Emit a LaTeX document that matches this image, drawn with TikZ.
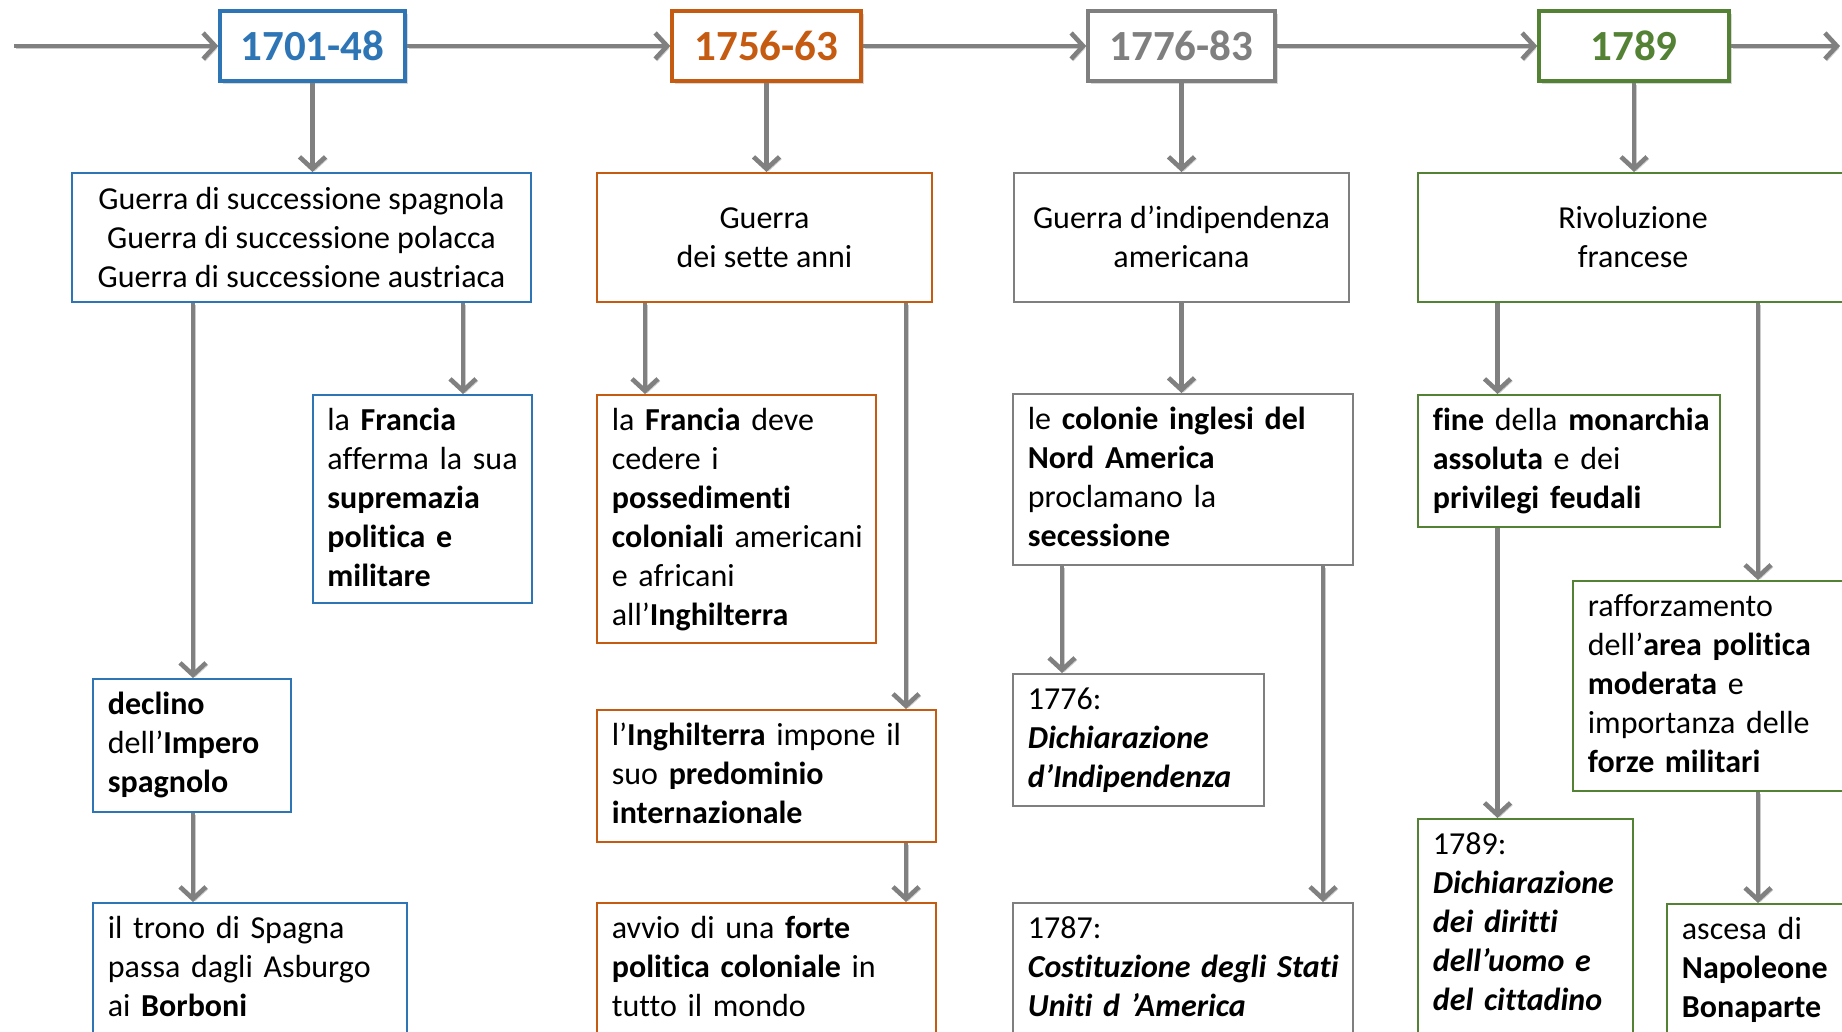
\documentclass[tikz,border=0pt]{standalone}
\usepackage{fontspec}
\setmainfont{Carlito}[Ligatures={NoCommon}]
\usetikzlibrary{arrows.meta,fit,shadows}
\definecolor{cblue}{HTML}{2E75B6}
\definecolor{corange}{HTML}{C55A11}
\definecolor{cgray}{HTML}{7F7F7F}
\definecolor{cgreen}{HTML}{548235}
\definecolor{carrow}{HTML}{808080}
\begin{document}
\begin{tikzpicture}[x=0.5pt,y=-0.5pt,
  arr/.style={draw=carrow, line width=2.3pt, -{Straight Barb[length=6pt,width=13pt]},
    preaction={draw=black!20, transform canvas={xshift=1pt,yshift=-1pt}}},
  ybox/.style={draw=#1, line width=1.75pt, fill=white, inner sep=0pt,
    drop shadow={shadow xshift=1.5pt, shadow yshift=-1.5pt, opacity=0.3}},
  ytx/.style={anchor=base, inner sep=0pt, text=#1, font=\fontsize{21.5}{26}\selectfont\bfseries},
  cbox/.style={draw=#1, line width=1pt, fill=white, inner sep=0pt},
  ctx/.style={anchor=base, inner sep=0pt, align=flush center, text width=500pt,
    font=\fontsize{16}{19.5}\selectfont},
  tx/.style={anchor=base west, inner sep=0pt, align=left, text width=300pt,
    font=\fontsize{16}{19.5}\selectfont},
]
\useasboundingbox (0,0) rectangle (1842,1032);
\clip (0,0) rectangle (1842,1032);
\fill[white] (0,0) rectangle (1842,1032);

% year boxes
\node[ybox=cblue,   fit={(220,11)(405,81)}]   (Y1) {};
\node[ybox=corange, fit={(672,11)(861,81)}]   (Y2) {};
\node[ybox=cgray,   fit={(1088,11)(1275,81)}] (Y3) {};
\node[ybox=cgreen,  fit={(1539,11)(1729,81)}] (Y4) {};
\node[ytx=cblue]   (Y1t) at ([shift={(0,15)}]Y1.center) {1701-48};
\node[ytx=corange] (Y2t) at ([shift={(0,15)}]Y2.center) {1756-63};
\node[ytx=cgray]   (Y3t) at ([shift={(0,15)}]Y3.center) {1776-83};
\node[ytx=cgreen]  (Y4t) at ([shift={(0,15)}]Y4.center) {1789};

\coordinate (t0) at (14,46);
\coordinate (t5) at (1840,46);
\draw[arr] (t0) -- (Y1.west);
\draw[arr] (Y1.east) -- (Y2.west);
\draw[arr] (Y2.east) -- (Y3.west);
\draw[arr] (Y3.east) -- (Y4.west);
\draw[arr] (Y4.east) -- (t5);

% first row
\node[cbox=cblue,   fit={(72,173)(531,302)}]    (A1) {};
\node[cbox=corange, fit={(597,173)(932,302)}]   (B1) {};
\node[cbox=cgray,   fit={(1014,173)(1349,302)}] (C1) {};
\node[cbox=cgreen,  fit={(1418,173)(1848,302)}] (D1) {};
\node[ctx] (A1t) at ([shift={(0,37.5)}]A1.north)
  {Guerra di successione spagnola\\Guerra di successione polacca\\Guerra di successione austriaca};
\node[ctx] (B1t) at ([shift={(0,57)}]B1.north) {Guerra\\dei sette anni};
\node[ctx] (C1t) at ([shift={(0,57)}]C1.north) {Guerra d’indipendenza\\americana};
\node[ctx] (D1t) at ([shift={(0,57)}]D1.north) {Rivoluzione\\francese};

\draw[arr] (Y1.south) -- (Y1.south |- A1.north);
\draw[arr] (Y2.south) -- (Y2.south |- B1.north);
\draw[arr] (Y3.south) -- (Y3.south |- C1.north);
\draw[arr] (Y4.south) -- (Y4.south |- D1.north);

% boxes
\node[cbox=cblue,   fit={(312.5,395)(531.5,603)}] (A2) {};
\node[cbox=cblue,   fit={(93,679)(291,812)}]      (A3) {};
\node[cbox=cblue,   fit={(93,903)(406.5,1060)}]   (A4) {};
\node[cbox=corange, fit={(597,395)(876,643)}]     (B2) {};
\node[cbox=corange, fit={(597,710)(936,842)}]     (B3) {};
\node[cbox=corange, fit={(597,903)(936,1060)}]    (B4) {};
\node[cbox=cgray,   fit={(1013,394)(1353,565)}]   (C2) {};
\node[cbox=cgray,   fit={(1013,674)(1264,806)}]   (C3) {};
\node[cbox=cgray,   fit={(1013,903)(1353,1060)}]  (C4) {};
\node[cbox=cgreen,  fit={(1418,395)(1720,527)}]   (D2) {};
\node[cbox=cgreen,  fit={(1573,581)(1870,791)}]   (D3) {};
\node[cbox=cgreen,  fit={(1418,819)(1633,1060)}]  (D4) {};
\node[cbox=cgreen,  fit={(1667,904)(1870,1060)}]  (D5) {};

% texts
\node[tx] (A2t) at ([shift={(15.5,36.5)}]A2.north west)
  {la \textbf{Francia}\\afferma la sua\\\textbf{supremazia}\\\textbf{politica e}\\\textbf{militare}};
\node[tx] (A3t) at ([shift={(15.5,36.5)}]A3.north west)
  {\textbf{declino}\\dell’\textbf{Impero}\\\textbf{spagnolo}};
\node[tx] (A4t) at ([shift={(15.5,36.5)}]A4.north west)
  {il trono di Spagna\\passa dagli Asburgo\\ai \textbf{Borboni}};
\node[tx] (B2t) at ([shift={(15.5,36.5)}]B2.north west)
  {la \textbf{Francia} deve\\cedere i\\\textbf{possedimenti}\\\textbf{coloniali} americani\\e africani\\all’\textbf{Inghilterra}};
\node[tx] (B3t) at ([shift={(15.5,36.5)}]B3.north west)
  {l’\textbf{Inghilterra} impone il\\suo \textbf{predominio}\\\textbf{internazionale}};
\node[tx] (B4t) at ([shift={(15.5,36.5)}]B4.north west)
  {avvio di una \textbf{forte}\\\textbf{politica coloniale} in\\tutto il mondo};
\node[tx] (C2t) at ([shift={(15.5,36.5)}]C2.north west)
  {le \textbf{colonie inglesi del}\\\textbf{Nord America}\\proclamano la\\\textbf{secessione}};
\node[tx] (C3t) at ([shift={(15.5,36.5)}]C3.north west)
  {1776:\\\textbf{\textit{Dichiarazione}}\\\textbf{\textit{d’Indipendenza}}};
\node[tx] (C4t) at ([shift={(15.5,36.5)}]C4.north west)
  {1787:\\\textbf{\textit{Costituzione degli Stati}}\\\textbf{\textit{Uniti d ’America}}};
\node[tx] (D2t) at ([shift={(15.5,36.5)}]D2.north west)
  {\textbf{fine} della \textbf{monarchia}\\\textbf{assoluta} e dei\\\textbf{privilegi feudali}};
\node[tx] (D3t) at ([shift={(15.5,36.5)}]D3.north west)
  {rafforzamento\\dell’\textbf{area politica}\\\textbf{moderata} e\\importanza delle\\\textbf{forze militari}};
\node[tx] (D4t) at ([shift={(15.5,36.5)}]D4.north west)
  {1789:\\\textbf{\textit{Dichiarazione}}\\\textbf{\textit{dei diritti}}\\\textbf{\textit{dell’uomo e}}\\\textbf{\textit{del cittadino}}};
\node[tx] (D5t) at ([shift={(15.5,36.5)}]D5.north west)
  {ascesa di\\\textbf{Napoleone}\\\textbf{Bonaparte}};

% connector columns
\coordinate (ka) at (463,0);
\coordinate (kb) at (193,0);
\coordinate (kc) at (645,0);
\coordinate (kd) at (906,0);
\coordinate (ke) at (1062,0);
\coordinate (kf) at (1323,0);
\coordinate (kg) at (1497.5,0);
\coordinate (kh) at (1758,0);

\draw[arr] (A1.south -| ka) -- (A2.north -| ka);
\draw[arr] (A1.south -| kb) -- (A3.north -| kb);
\draw[arr] (A3.south -| kb) -- (A4.north -| kb);
\draw[arr] (B1.south -| kc) -- (B2.north -| kc);
\draw[arr] (B1.south -| kd) -- (B3.north -| kd);
\draw[arr] (B3.south -| kd) -- (B4.north -| kd);
\draw[arr] (C1.south) -- (C1.south |- C2.north);
\draw[arr] (C2.south -| ke) -- (C3.north -| ke);
\draw[arr] (C2.south -| kf) -- (C4.north -| kf);
\draw[arr] (D1.south -| kg) -- (D2.north -| kg);
\draw[arr] (D1.south -| kh) -- (D3.north -| kh);
\draw[arr] (D2.south -| kg) -- (D4.north -| kg);
\draw[arr] (D3.south -| kh) -- (D5.north -| kh);
\end{tikzpicture}
\end{document}
